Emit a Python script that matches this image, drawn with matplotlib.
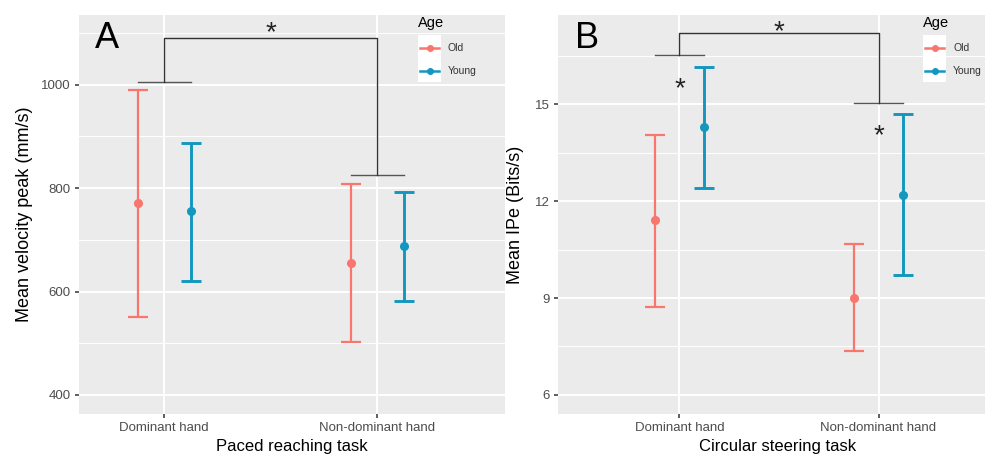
import matplotlib
matplotlib.use("Agg")
import matplotlib.pyplot as plt
from matplotlib.patches import Rectangle
from matplotlib.lines import Line2D

plt.rcParams["font.family"] = ["Liberation Sans", "DejaVu Sans"]

# ── data ─────────────────────────────────────────────────────────────────────
hands = ["Dominant hand", "Non-dominant hand"]
groups = ["Old", "Young"]
colors = {"Old": "#F8766D", "Young": "#1497BF"}

# panel A: paced reaching, mean velocity peak (mm/s)
vel_mean = {"Old": [771, 655], "Young": [755, 688]}
vel_low = {"Old": [551, 503], "Young": [620, 582]}
vel_high = {"Old": [990, 808], "Young": [887, 792]}
vel_bracket = [1005, 826, 1090]      # left foot, right foot, top

# panel B: circular steering, mean IPe (bits/s)
ipe_mean = {"Old": [11.4, 9.0], "Young": [14.3, 12.2]}
ipe_low = {"Old": [8.72, 7.35], "Young": [12.42, 9.72]}
ipe_high = {"Old": [14.05, 10.67], "Young": [16.16, 14.69]}
ipe_bracket = [16.52, 15.03, 17.2]
ipe_stars = [15.45, 14.0]            # within-hand age stars

W, H = 985, 458
fig = plt.figure(figsize=(W / 100, H / 100), dpi=100)
DODGE = 0.125
GREY = "#EBEBEB"


def px(x, y):
    return x / W, 1 - y / H


def style(ax, xlim, ylim, major, minor):
    ax.set_facecolor(GREY)
    for s in ax.spines.values():
        s.set_visible(False)
    ax.set_xlim(*xlim)
    ax.set_ylim(*ylim)
    ax.set_xticks([1, 2])
    ax.set_xticklabels(hands)
    ax.set_yticks(major)
    ax.set_yticks(minor, minor=True)
    ax.grid(which="major", color="white", lw=1.4)
    ax.grid(which="minor", axis="y", color="white", lw=0.7)
    ax.set_axisbelow(True)
    ax.tick_params(which="major", length=3, width=1.1, color="#333333",
                   labelcolor="#4D4D4D", labelsize=9.5, pad=3)
    ax.tick_params(which="minor", length=0)


def errbars(ax, mean, low, high):
    for k, g in enumerate(groups):
        xs = [i + 1 + (k * 2 - 1) * DODGE for i in range(len(hands))]
        yerr = [[m - l for m, l in zip(mean[g], low[g])],
                [h - m for m, h in zip(mean[g], high[g])]]
        lw = 1.6 if g == "Old" else 2.1
        ax.errorbar(xs, mean[g], yerr=yerr, fmt="o", color=colors[g], ms=5.5,
                    elinewidth=lw, capsize=7.5, capthick=lw, zorder=3)


def star(ax, x, y):
    ax.text(x, y, "*", ha="center", va="center", fontsize=20, color="#222222")


def bracket(ax, b, star_y):
    kw = dict(color="#333333", lw=1.0, zorder=4)
    ax.plot([1, 1, 2, 2], [b[0], b[2], b[2], b[1]], **kw)
    ax.plot([1 - DODGE, 1 + DODGE], [b[0], b[0]], color="#555555", lw=1.0)
    ax.plot([2 - DODGE, 2 + DODGE], [b[1], b[1]], color="#555555", lw=1.0)
    star(ax, 1.5, star_y)


def legend(x0):
    # x0: left pixel of the legend keys
    fig.text(*px(x0, 23), "Age", fontsize=10.5, va="center", ha="left")
    fig.patches.append(Rectangle(px(x0, 82), 23 / W, 47 / H, transform=fig.transFigure,
                                 facecolor="white", edgecolor="none", zorder=5))
    for g, y in zip(groups, [48, 71]):
        a, yy = px(x0 + 2, y)
        b, _ = px(x0 + 21, y)
        fig.lines.append(Line2D([a, b], [yy, yy], transform=fig.transFigure,
                                color=colors[g], lw=1.8, zorder=6))
        fig.lines.append(Line2D([(a + b) / 2], [yy], transform=fig.transFigure,
                                marker="o", ms=4, color=colors[g], zorder=6))
        fig.text(*px(x0 + 30, y), g, fontsize=7.5, va="center", ha="left",
                 color="#333333")


# ── panel A ──────────────────────────────────────────────────────────────────
axA = fig.add_axes([79 / W, 44 / H, 426 / W, 399 / H])
style(axA, (0.60, 2.60), (363, 1135), [400, 600, 800, 1000], [500, 700, 900, 1100])
errbars(axA, vel_mean, vel_low, vel_high)
bracket(axA, vel_bracket, 1100)
axA.set_xlabel("Paced reaching task", fontsize=12, labelpad=3)
axA.set_ylabel("Mean velocity peak (mm/s)", fontsize=13, labelpad=6)
fig.text(*px(95, 48), "A", fontsize=26, va="baseline")
legend(418)

# ── panel B (runs past the right edge in the original crop) ──────────────────
axB = fig.add_axes([558 / W, 44 / H, 440 / W, 399 / H])
style(axB, (0.39, 2.60), (5.41, 17.76), [6, 9, 12, 15], [7.5, 10.5, 13.5, 16.5])
errbars(axB, ipe_mean, ipe_low, ipe_high)
bracket(axB, ipe_bracket, 17.22)
for i, y in enumerate(ipe_stars):
    star(axB, i + 1, y)
axB.set_xlabel("Circular steering task", fontsize=12, labelpad=3)
axB.set_ylabel("Mean IPe (Bits/s)", fontsize=13, labelpad=8)
fig.text(*px(575, 48), "B", fontsize=26, va="baseline")
legend(923)

fig.savefig("out.png", dpi=100)
